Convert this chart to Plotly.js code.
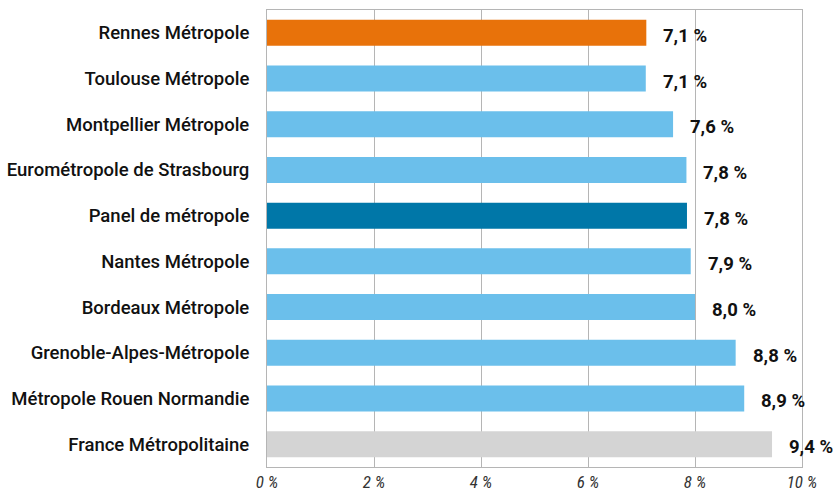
<!DOCTYPE html>
<html>
<head>
<meta charset="utf-8">
<script src="https://cdn.plot.ly/plotly-3.0.1.min.js"></script>
<style>html,body{margin:0;padding:0;background:#fff;}#chart{width:833px;height:495px;}</style>
</head>
<body>
<div id="chart"></div>
<script>
const categories = ["Rennes Métropole","Toulouse Métropole","Montpellier Métropole","Eurométropole de Strasbourg","Panel de métropole","Nantes Métropole","Bordeaux Métropole","Grenoble-Alpes-Métropole","Métropole Rouen Normandie","France Métropolitaine"];
const values = [7.09, 7.08, 7.59, 7.84, 7.85, 7.92, 8.0, 8.76, 8.92, 9.44];
const valueLabels = ["7,1 %","7,1 %","7,6 %","7,8 %","7,8 %","7,9 %","8,0 %","8,8 %","8,9 %","9,4 %"];
const barColors = ["#E8720A","#6BBFEB","#6BBFEB","#6BBFEB","#0077A8","#6BBFEB","#6BBFEB","#6BBFEB","#6BBFEB","#D4D4D4"];
const tickVals = [0,2,4,6,8,10];
const tickText = ["0 %","2 %","4 %","6 %","8 %","10 %"];

const FONT = 'Roboto, "Liberation Sans", sans-serif';
const TFONT = '"Roboto Condensed","Liberation Sans Narrow", Roboto, sans-serif';

const trace = {
  type: 'bar',
  orientation: 'h',
  y: categories,
  x: values,
  marker: {color: barColors},
  hoverinfo: 'none'
};

const annotations = categories.map((c,i)=>({
  x: values[i], y: c, xref:'x', yref:'y',
  text: '<b>'+valueLabels[i]+'</b>',
  showarrow:false, xanchor:'left', yanchor:'middle',
  xshift: 15, yshift: -3,
  font:{family:FONT, size:18.5, color:'#111'}
}));

const layout = {
  width: 833, height: 495,
  margin: {l: 267, r: 31, t: 10, b: 28},
  paper_bgcolor:'#fff', plot_bgcolor:'#fff',
  showlegend:false,
  bargap: 0.43,
  xaxis: {
    range:[0,10], tickvals: tickVals, ticktext: tickText,
    showgrid:true, gridcolor:'#B5B5B5', gridwidth:1,
    zeroline:false, showline:true, linecolor:'#B5B5B5', linewidth:1, mirror:true,
    ticks:'', ticklen:0,
    tickfont:{family:TFONT, size:17, color:'#333', style:'italic'},
    fixedrange:true
  },
  yaxis: {
    autorange:'reversed', showgrid:false, zeroline:false,
    showline:true, linecolor:'#B5B5B5', linewidth:1, mirror:true,
    ticks:'outside', ticklen:13, tickcolor:'rgba(0,0,0,0)',
    tickfont:{family:FONT, size:18.5, color:'#111', weight:500},
    fixedrange:true
  },
  annotations: annotations
};

Plotly.newPlot('chart',[trace],layout,{displayModeBar:false,staticPlot:true});
</script>
</body>
</html>
